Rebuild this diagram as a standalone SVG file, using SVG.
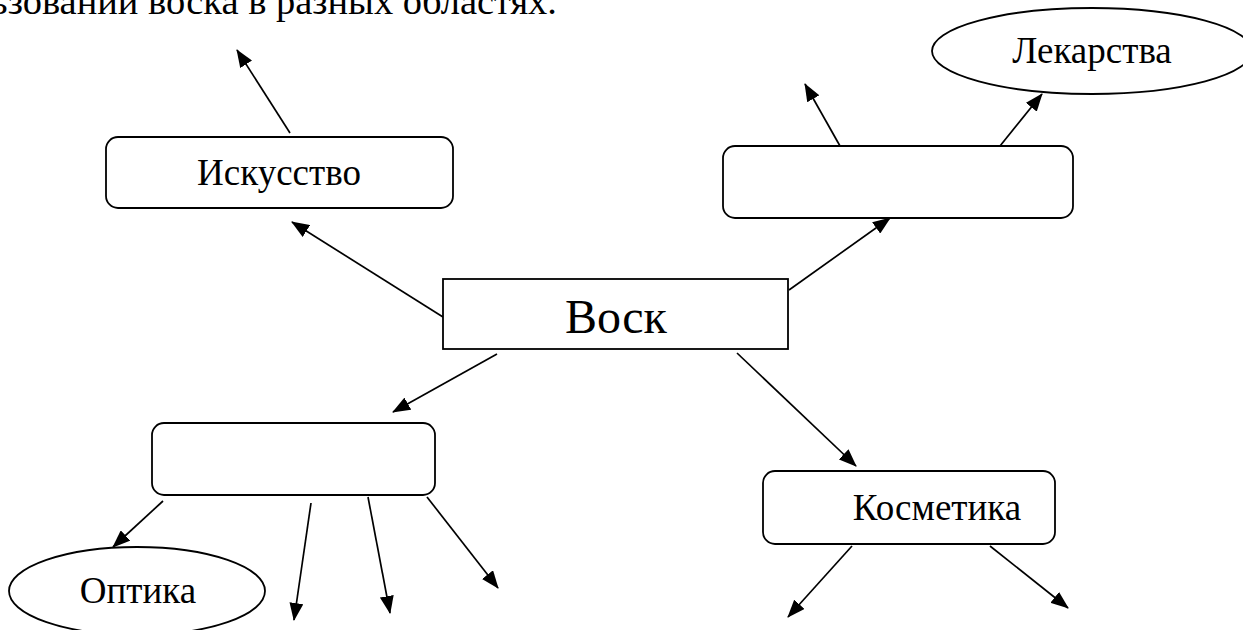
<svg xmlns="http://www.w3.org/2000/svg" width="1243" height="630" viewBox="0 0 1243 630">
<style>
.box{fill:#fff;stroke:#000;stroke-width:1.8}
.lbl{font-family:"Liberation Serif","Times New Roman",serif;font-size:37px;fill:#000;text-anchor:middle}
.big{font-size:48px}
.con line{stroke:#000;stroke-width:1.7;marker-end:url(#ah)}
</style>
<defs>
<marker id="ah" viewBox="0 0 18 14" refX="17" refY="7" markerWidth="18" markerHeight="14" markerUnits="userSpaceOnUse" orient="auto">
<path d="M0,0 L18,7 L0,14 Z" fill="#000"/>
</marker>
</defs>
<rect width="1243" height="630" fill="#fff"/>
<text class="lbl" x="557" y="14" style="text-anchor:end;font-size:38.5px">ьзовании воска в разных областях.</text>
<g class="con">
<line x1="290" y1="133" x2="237" y2="50"/>
<line x1="443" y1="317" x2="292" y2="222"/>
<line x1="789" y1="290" x2="890" y2="218"/>
<line x1="840" y1="146" x2="805" y2="84"/>
<line x1="1000" y1="146" x2="1042" y2="94"/>
<line x1="497" y1="354" x2="393" y2="412"/>
<line x1="737" y1="353" x2="856" y2="466"/>
<line x1="163" y1="501" x2="113" y2="547"/>
<line x1="311" y1="503" x2="294" y2="620"/>
<line x1="368" y1="497" x2="390" y2="613"/>
<line x1="427" y1="497" x2="498" y2="588"/>
<line x1="852" y1="546" x2="788" y2="617"/>
<line x1="990" y1="546" x2="1068" y2="608"/>
</g>
<g id="iskusstvo">
<rect class="box" x="106" y="137" width="347" height="71" rx="12"/>
<text class="lbl" x="279" y="185">Искусство</text>
</g>
<g id="upper-right">
<rect class="box" x="723" y="146" width="350" height="72" rx="12"/>
</g>
<g id="lekarstva">
<ellipse class="box" cx="1092" cy="51" rx="160" ry="43"/>
<text class="lbl" x="1092" y="63">Лекарства</text>
</g>
<g id="vosk">
<rect class="box" x="443" y="279" width="345" height="70"/>
<text class="lbl big" x="616" y="333">Воск</text>
</g>
<g id="lower-left">
<rect class="box" x="152" y="423" width="283" height="72" rx="12"/>
</g>
<g id="optika">
<ellipse class="box" cx="137" cy="591" rx="128" ry="44"/>
<text class="lbl" x="138" y="603">Оптика</text>
</g>
<g id="kosmetika">
<rect class="box" x="763" y="471" width="292" height="73" rx="12"/>
<text class="lbl" x="937" y="520">Косметика</text>
</g>
</svg>
